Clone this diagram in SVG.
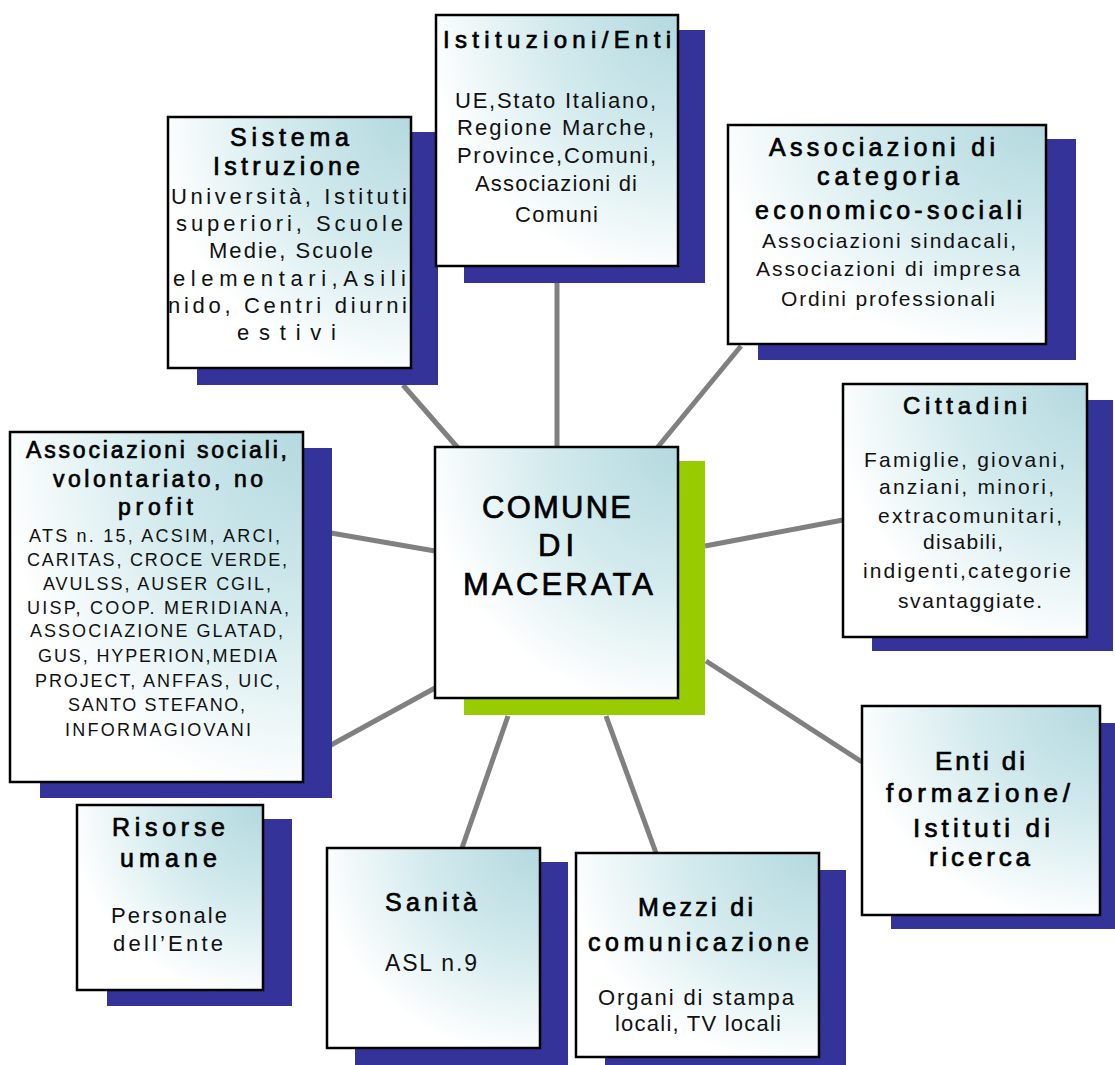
<svg xmlns="http://www.w3.org/2000/svg" width="1115" height="1065" viewBox="0 0 1115 1065">
<defs>
<radialGradient id="g" cx="1" cy="0" r="1.05" fx="1" fy="0">
<stop offset="0" stop-color="#B3D9DF"/>
<stop offset="0.5" stop-color="#D2EAED"/>
<stop offset="1" stop-color="#FFFFFF"/>
</radialGradient>
<style>
.sh{fill:#333399}
.gr{fill:#99CC00}
.bx{fill:url(#g);stroke:#000;stroke-width:2.5}
.ln{stroke:#808080;stroke-width:5;fill:none}
text{font-family:"Liberation Sans",Arial,sans-serif;fill:#000}
.t{stroke:#000;stroke-width:0.7}
.b{fill:#111}
</style>
</defs>
<rect width="1115" height="1065" fill="#fff"/>
<g id="connectors">
<line class="ln" x1="557" y1="266" x2="557" y2="448"/>
<line class="ln" x1="403" y1="385" x2="458" y2="448"/>
<line class="ln" x1="741" y1="346" x2="657" y2="448"/>
<line class="ln" x1="843" y1="520" x2="705" y2="546"/>
<line class="ln" x1="331" y1="533" x2="435" y2="551"/>
<line class="ln" x1="331" y1="745" x2="435" y2="688"/>
<line class="ln" x1="862" y1="762" x2="706" y2="661"/>
<line class="ln" x1="462" y1="848" x2="508" y2="716"/>
<line class="ln" x1="656" y1="853" x2="606" y2="716"/>
</g>
<g id="sistema">
<rect class="sh" x="197" y="132" width="241" height="253"/>
<rect class="bx" x="168" y="117" width="243" height="251"/>
<text class="t" font-size="25" x="230" y="146" textLength="119" lengthAdjust="spacing">Sistema</text>
<text class="t" font-size="25" x="213" y="175" textLength="147" lengthAdjust="spacing">Istruzione</text>
<text class="b" font-size="22" x="171" y="204" textLength="236" lengthAdjust="spacing">Università, Istituti</text>
<text class="b" font-size="22" x="176" y="231" textLength="227" lengthAdjust="spacing">superiori, Scuole</text>
<text class="b" font-size="22" x="209" y="258" textLength="164" lengthAdjust="spacing">Medie, Scuole</text>
<text class="b" font-size="22" x="173" y="286" textLength="233" lengthAdjust="spacing">elementari,Asili</text>
<text class="b" font-size="22" x="168" y="313" textLength="239" lengthAdjust="spacing">nido, Centri diurni</text>
<text class="b" font-size="22" x="237" y="340" textLength="99" lengthAdjust="spacing">estivi</text>
</g>
<g id="istituzioni">
<rect class="sh" x="464" y="30" width="241" height="253"/>
<rect class="bx" x="436" y="15" width="242" height="251"/>
<text class="t" font-size="24" x="443" y="48" textLength="228" lengthAdjust="spacing">Istituzioni/Enti</text>
<text class="b" font-size="22" x="455" y="108" textLength="201" lengthAdjust="spacing">UE,Stato Italiano,</text>
<text class="b" font-size="22" x="457" y="135" textLength="197" lengthAdjust="spacing">Regione Marche,</text>
<text class="b" font-size="22" x="457" y="163" textLength="199" lengthAdjust="spacing">Province,Comuni,</text>
<text class="b" font-size="22" x="475" y="191" textLength="162" lengthAdjust="spacing">Associazioni di</text>
<text class="b" font-size="22" x="515" y="222" textLength="83" lengthAdjust="spacing">Comuni</text>
</g>
<g id="categoria">
<rect class="sh" x="758" y="139" width="318" height="221"/>
<rect class="bx" x="728" y="125" width="318" height="219"/>
<text class="t" font-size="25" x="769" y="156" textLength="226" lengthAdjust="spacing">Associazioni di</text>
<text class="t" font-size="25" x="817" y="185" textLength="142" lengthAdjust="spacing">categoria</text>
<text class="t" font-size="25" x="755" y="219" textLength="267" lengthAdjust="spacing">economico-sociali</text>
<text class="b" font-size="21" x="762" y="248" textLength="254" lengthAdjust="spacing">Associazioni sindacali,</text>
<text class="b" font-size="21" x="756" y="276" textLength="264" lengthAdjust="spacing">Associazioni di impresa</text>
<text class="b" font-size="21" x="781" y="306" textLength="214" lengthAdjust="spacing">Ordini professionali</text>
</g>
<g id="cittadini">
<rect class="sh" x="872" y="400" width="241" height="251"/>
<rect class="bx" x="843" y="384" width="244" height="253"/>
<text class="t" font-size="24" x="903" y="414" textLength="124" lengthAdjust="spacing">Cittadini</text>
<text class="b" font-size="21" x="864" y="467" textLength="201" lengthAdjust="spacing">Famiglie, giovani,</text>
<text class="b" font-size="21" x="879" y="494" textLength="175" lengthAdjust="spacing">anziani, minori,</text>
<text class="b" font-size="21" x="878" y="523" textLength="184" lengthAdjust="spacing">extracomunitari,</text>
<text class="b" font-size="21" x="923" y="549" textLength="80" lengthAdjust="spacing">disabili,</text>
<text class="b" font-size="21" x="863" y="578" textLength="208" lengthAdjust="spacing">indigenti,categorie</text>
<text class="b" font-size="21" x="898" y="608" textLength="144" lengthAdjust="spacing">svantaggiate.</text>
</g>
<g id="sociali">
<rect class="sh" x="40" y="448" width="292" height="350"/>
<rect class="bx" x="10" y="432" width="293" height="350"/>
<text class="t" font-size="23" x="26" y="458" textLength="261" lengthAdjust="spacing">Associazioni sociali,</text>
<text class="t" font-size="23" x="53" y="487" textLength="210" lengthAdjust="spacing">volontariato, no</text>
<text class="t" font-size="23" x="118" y="515" textLength="75" lengthAdjust="spacing">profit</text>
<text class="b" font-size="18" x="29" y="542" textLength="251" lengthAdjust="spacing">ATS n. 15, ACSIM, ARCI,</text>
<text class="b" font-size="18" x="27" y="566" textLength="260" lengthAdjust="spacing">CARITAS, CROCE VERDE,</text>
<text class="b" font-size="18" x="43" y="590" textLength="228" lengthAdjust="spacing">AVULSS, AUSER CGIL,</text>
<text class="b" font-size="18" x="27" y="614" textLength="262" lengthAdjust="spacing">UISP, COOP. MERIDIANA,</text>
<text class="b" font-size="18" x="30" y="637" textLength="253" lengthAdjust="spacing">ASSOCIAZIONE GLATAD,</text>
<text class="b" font-size="18" x="38" y="662" textLength="239" lengthAdjust="spacing">GUS, HYPERION,MEDIA</text>
<text class="b" font-size="18" x="35" y="687" textLength="245" lengthAdjust="spacing">PROJECT, ANFFAS, UIC,</text>
<text class="b" font-size="18" x="68" y="711" textLength="177" lengthAdjust="spacing">SANTO STEFANO,</text>
<text class="b" font-size="18" x="65" y="736" textLength="186" lengthAdjust="spacing">INFORMAGIOVANI</text>
</g>
<g id="comune">
<rect class="gr" x="464" y="461" width="241" height="254"/>
<rect class="bx" x="435" y="447" width="243" height="251"/>
<text class="t" font-size="31" x="482" y="518" textLength="149" lengthAdjust="spacing" stroke-width="0.9">COMUNE</text>
<text class="t" font-size="31" x="538" y="556" textLength="36" lengthAdjust="spacing" stroke-width="0.9">DI</text>
<text class="t" font-size="31" x="463" y="595" textLength="190" lengthAdjust="spacing" stroke-width="0.9">MACERATA</text>
</g>
<g id="formazione">
<rect class="sh" x="891" y="723" width="224" height="206"/>
<rect class="bx" x="862" y="706" width="238" height="209"/>
<text class="t" font-size="26" x="935" y="770" textLength="90" lengthAdjust="spacing">Enti di</text>
<text class="t" font-size="26" x="886" y="802" textLength="184" lengthAdjust="spacing">formazione/</text>
<text class="t" font-size="26" x="913" y="837" textLength="137" lengthAdjust="spacing">Istituti di</text>
<text class="t" font-size="26" x="929" y="866" textLength="101" lengthAdjust="spacing">ricerca</text>
</g>
<g id="risorse">
<rect class="sh" x="107" y="819" width="185" height="187"/>
<rect class="bx" x="77" y="805" width="186" height="185"/>
<text class="t" font-size="25" x="112" y="836" textLength="113" lengthAdjust="spacing">Risorse</text>
<text class="t" font-size="25" x="120" y="867" textLength="97" lengthAdjust="spacing">umane</text>
<text class="b" font-size="22" x="111" y="923" textLength="116" lengthAdjust="spacing">Personale</text>
<text class="b" font-size="22" x="113" y="951" textLength="110" lengthAdjust="spacing">dell’Ente</text>
</g>
<g id="sanita">
<rect class="sh" x="355" y="862" width="213" height="203"/>
<rect class="bx" x="327" y="848" width="213" height="200"/>
<text class="t" font-size="25" x="385" y="911" textLength="92" lengthAdjust="spacing">Sanità</text>
<text class="b" font-size="23" x="385" y="971" textLength="92" lengthAdjust="spacing">ASL n.9</text>
</g>
<g id="mezzi">
<rect class="sh" x="605" y="870" width="241" height="195"/>
<rect class="bx" x="576" y="853" width="243" height="204"/>
<text class="t" font-size="25" x="638" y="916" textLength="115" lengthAdjust="spacing">Mezzi di</text>
<text class="t" font-size="25" x="588" y="951" textLength="221" lengthAdjust="spacing">comunicazione</text>
<text class="b" font-size="22" x="598" y="1005" textLength="196" lengthAdjust="spacing">Organi di stampa</text>
<text class="b" font-size="22" x="615" y="1031" textLength="166" lengthAdjust="spacing">locali, TV locali</text>
</g>
</svg>
